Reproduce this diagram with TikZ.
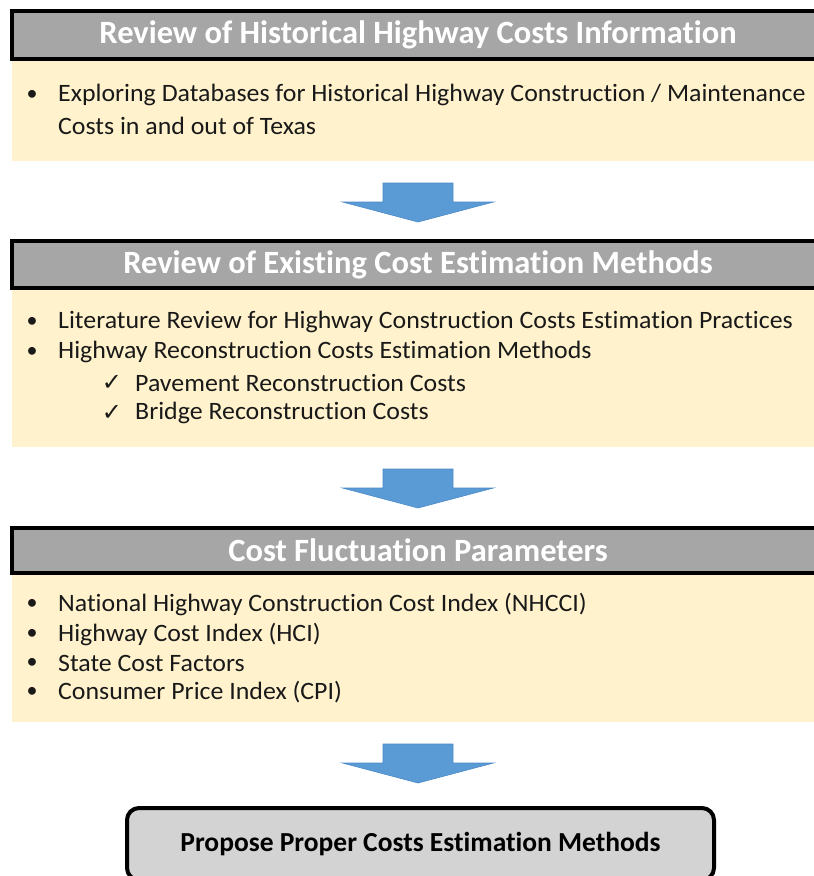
\documentclass[tikz,border=0pt]{standalone}
\usepackage{fontspec}
\setmainfont{Carlito}[Ligatures=NoCommon]
\newfontfamily\bodyfont[FakeStretch=1.035,Ligatures=NoCommon]{Carlito}
\newfontfamily\symfont{DejaVu Sans}
\usetikzlibrary{calc}
\definecolor{hdrgray}{HTML}{A6A6A6}
\definecolor{boxyellow}{HTML}{FFF2CC}
\definecolor{arrowblue}{HTML}{5B9BD5}
\definecolor{arrowedge}{HTML}{4A89C8}
\definecolor{endgray}{HTML}{D3D3D3}
\tikzset{
  header/.style={draw=black, line width=4pt, fill=hdrgray, minimum width=812pt, inner sep=0pt, outer sep=0pt,
    text=white, font=\fontsize{32.5}{35}\selectfont\bfseries},
  panel/.style={fill=boxyellow, minimum width=812pt, inner sep=0pt, outer sep=0pt},
  item/.style={anchor=west, inner sep=0pt, font=\fontsize{25}{28}\bodyfont, text=black!90},
  bulletmark/.style={inner sep=0pt, font=\fontsize{22}{24}\selectfont, text=black!90},
  checkmark/.style={inner sep=0pt, font=\fontsize{24}{26}\symfont, text=black!90},
  endbox/.style={draw=black, line width=4pt, fill=endgray, rounded corners=12pt, minimum width=587pt,
    minimum height=72pt, inner sep=0pt, font=\fontsize{27.5}{30}\selectfont\bfseries},
  downarrow/.pic={\filldraw[fill=arrowblue, draw=arrowedge, line width=0.6pt]
     (-35,0) -- (35,0) -- (35,19) -- (75.5,19) -- (0,39) -- (-75.5,19) -- (-35,19) -- cycle;}
}
\begin{document}
\begin{tikzpicture}[x=1pt,y=-1pt]
\useasboundingbox (0,0) rectangle (814,876);
% section 1
\node[panel, minimum height=100pt] (p1) at (418,111) {};
\node[header, minimum height=48pt] (h1) at (418,35) {Review of Historical Highway Costs Information};
\node[bulletmark] (b11) at (32,95) {•};
\node[item] (t11) at (58,95) {Exploring Databases for Historical Highway Construction / Maintenance};
\node[item] (t12) at (58,126) {Costs in and out of Texas};
\path (p1.south) ++(0,22) coordinate (a1);
\pic at (a1) {downarrow};
% section 2
\node[panel, minimum height=157pt] (p2) at (418,368.5) {};
\node[header, minimum height=47pt] (h2) at (418,264.5) {Review of Existing Cost Estimation Methods};
\node[bulletmark] (b21) at (32,322) {•};
\node[item] (t21) at (58,322) {Literature Review for Highway Construction Costs Estimation Practices};
\node[bulletmark] (b22) at (32,352) {•};
\node[item] (t22) at (58,352) {Highway Reconstruction Costs Estimation Methods};
\node[checkmark] (c23) at (112,383) {✓};
\node[item] (t23) at (135,383) {Pavement Reconstruction Costs};
\node[checkmark] (c24) at (112,413) {✓};
\node[item] (t24) at (135,413) {Bridge Reconstruction Costs};
\path (p2.south) ++(0,22) coordinate (a2);
\pic at (a2) {downarrow};
% section 3
\node[panel, minimum height=147pt] (p3) at (418,648.5) {};
\node[header, minimum height=45pt] (h3) at (418,550.5) {Cost Fluctuation Parameters};
\node[bulletmark] (b31) at (32,604) {•};
\node[item] (t31) at (58,604) {National Highway Construction Cost Index (NHCCI)};
\node[bulletmark] (b32) at (32,634) {•};
\node[item] (t32) at (58,634) {Highway Cost Index (HCI)};
\node[bulletmark] (b33) at (32,663) {•};
\node[item] (t33) at (58,663) {State Cost Factors};
\node[bulletmark] (b34) at (32,692) {•};
\node[item] (t34) at (58,692) {Consumer Price Index (CPI)};
\path (p3.south) ++(0,22) coordinate (a3);
\pic at (a3) {downarrow};
% final box
\node[endbox] (e) at (420.5,844) {Propose Proper Costs Estimation Methods};
\end{tikzpicture}
\end{document}
